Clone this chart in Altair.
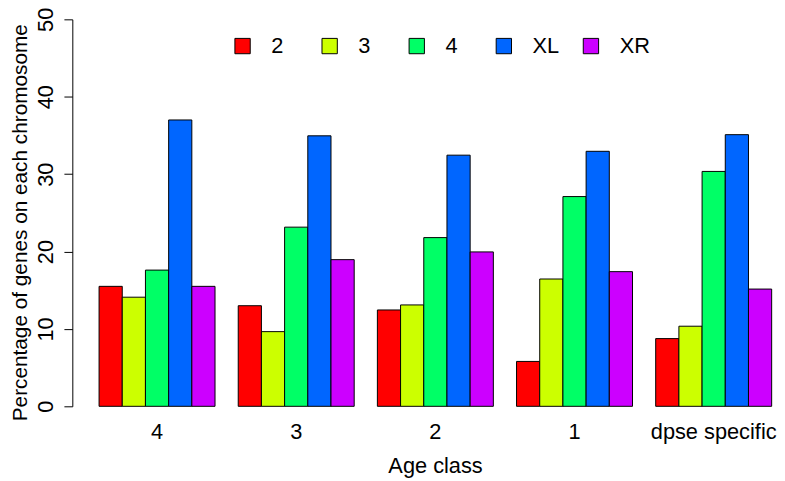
import altair as alt
import pandas as pd

groups = ["4", "3", "2", "1", "dpse specific"]
chromosomes = ["2", "3", "4", "XL", "XR"]
colors = ["#FF0000", "#CCFF00", "#00FF66", "#0066FF", "#CC00FF"]

chr2 = [15.5, 13.0, 12.45, 5.8, 8.75]
chr3 = [14.1, 9.65, 13.1, 16.45, 10.35]
chr4 = [17.6, 23.15, 21.8, 27.1, 30.35]
chrXL = [37.0, 34.95, 32.45, 32.95, 35.1]
chrXR = [15.5, 18.95, 19.95, 17.4, 15.15]

series = [chr2, chr3, chr4, chrXL, chrXR]
rows = []
for c, vals in zip(chromosomes, series):
    for g, v in zip(groups, vals):
        rows.append({"group": g, "chromosome": c, "value": v})
df = pd.DataFrame(rows)

FONT = "Liberation Sans"

chart = alt.Chart(df).mark_bar(stroke="black", strokeWidth=1).encode(
    x=alt.X(
        "group:N",
        sort=groups,
        scale=alt.Scale(paddingInner=1 / 6, paddingOuter=0.101, align=0.951),
        axis=alt.Axis(
            title="Age class",
            domain=False,
            ticks=False,
            tickSize=0,
            labelAngle=0,
            labelFontSize=22,
            labelBaseline="alphabetic",
            labelPadding=33,
            labelColor="black",
            titleFontSize=22,
            titleFontWeight="normal",
            titleColor="black",
            titleBaseline="alphabetic",
            titleX=366.5,
            titleY=67,
            titleAnchor="middle",
        ),
    ),
    xOffset=alt.XOffset("chromosome:N", sort=chromosomes),
    y=alt.Y(
        "value:Q",
        scale=alt.Scale(domain=[0, 50], nice=False),
        axis=alt.Axis(
            title="Percentage of genes on each chromosome",
            values=[0, 10, 20, 30, 40, 50],
            grid=False,
            domainColor="black",
            tickColor="black",
            tickSize=8.5,
            labelAngle=270,
            labelAlign="center",
            labelBaseline="alphabetic",
            labelPadding=12,
            labelFontSize=22,
            labelColor="black",
            titleFontSize=21,
            titleFontWeight="normal",
            titleColor="black",
            titleAngle=270,
            titleAlign="center",
            titleBaseline="alphabetic",
            titleX=-46,
            titleY=205,
        ),
    ),
    color=alt.Color(
        "chromosome:N",
        sort=chromosomes,
        scale=alt.Scale(domain=chromosomes, range=colors),
        legend=alt.Legend(
            title=None,
            orient="none",
            legendX=161,
            legendY=16,
            direction="horizontal",
            columns=5,
            gridAlign="all",
            symbolType="square",
            symbolSize=240,
            symbolStrokeColor="black",
            symbolStrokeWidth=1,
            symbolOpacity=1,
            labelFontSize=22,
            labelColor="black",
            labelOffset=18,
            columnPadding=17,
            padding=0,
        ),
    ),
).properties(
    width=708,
    height=391,
    autosize=alt.AutoSizeParams(type="none"),
    padding={"left": 65, "top": 9, "right": 4, "bottom": 73},
).configure(font=FONT).configure_view(strokeWidth=0)

chart.save("out.html", embed_options={"renderer": "svg", "actions": False})
